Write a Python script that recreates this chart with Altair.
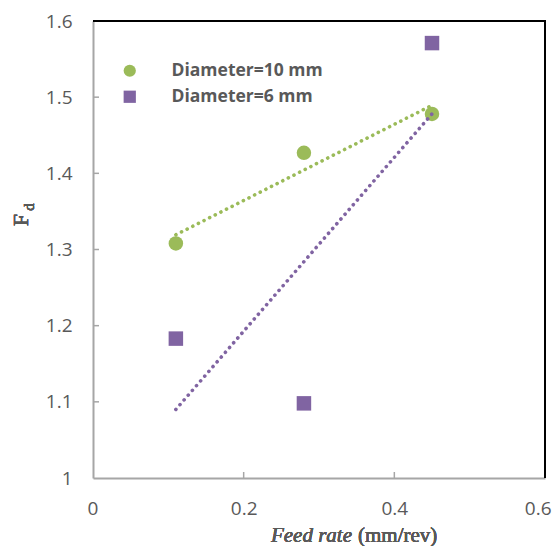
import altair as alt
import pandas as pd

feed = [0.11, 0.28, 0.45]
fd_10 = [1.308, 1.427, 1.478]
fd_6 = [1.183, 1.098, 1.571]
series_names = ["Diameter=10 mm", "Diameter=6 mm"]
colors = ["#9BBB59", "#8064A2"]
shapes = ["circle", "square"]
x_ticks = [0, 0.2, 0.4, 0.6]
y_ticks = [1, 1.1, 1.2, 1.3, 1.4, 1.5, 1.6]

rows = []
for x, y in zip(feed, fd_10):
    rows.append({"x": x, "y": y, "s": series_names[0]})
for x, y in zip(feed, fd_6):
    rows.append({"x": x, "y": y, "s": series_names[1]})
df = pd.DataFrame(rows)

W, H = 452, 457
xs = alt.Scale(domain=[0, 0.6], nice=False)
ys = alt.Scale(domain=[1, 1.6], nice=False)
lab_font = "Open Sans"

xaxis = alt.Axis(values=x_ticks, title=None, grid=False, domainColor="#A6A6A6", domainWidth=2,
                 ticks=False, labelFont=lab_font, labelFontSize=19, labelColor="#595959",
                 labelPadding=21, labelFlush=True, labelFlushOffset=6, format="~g")
yaxis = alt.Axis(values=y_ticks, title=None, grid=False, domainColor="#A6A6A6", domainWidth=2,
                 ticks=False, labelFont=lab_font, labelFontSize=19, labelColor="#595959",
                 labelPadding=21, format="~g")

base = alt.Chart(df)

points = base.mark_point(filled=True, opacity=1, size=210).encode(
    x=alt.X("x:Q", scale=xs, axis=xaxis),
    y=alt.Y("y:Q", scale=ys, axis=yaxis),
    color=alt.Color("s:N", scale=alt.Scale(domain=series_names, range=colors),
                    legend=alt.Legend(title=None, orient="none", legendX=28, legendY=41,
                                      labelFont=lab_font, labelFontSize=17.5, labelFontWeight="bold",
                                      labelColor="#595959", symbolSize=150, symbolOpacity=1,
                                      labelOffset=33, rowPadding=7, padding=0,
                                      symbolStrokeWidth=0)),
    shape=alt.Shape("s:N", scale=alt.Scale(domain=series_names, range=shapes)),
)

trend = base.transform_regression("x", "y", groupby=["s"]).mark_line(
    strokeDash=[0.1, 6.2], strokeCap="round", strokeWidth=3.6
).encode(
    x=alt.X("x:Q", scale=xs),
    y=alt.Y("y:Q", scale=ys),
    color=alt.Color("s:N", scale=alt.Scale(domain=series_names, range=colors), legend=None),
)

# inward tick marks
ytick_df = pd.DataFrame({"v": y_ticks[1:-1]})
yt = alt.Chart(ytick_df).mark_rule(color="#A6A6A6", strokeWidth=1.5).encode(
    y=alt.Y("v:Q", scale=ys), x=alt.value(0), x2=alt.value(6))
xtick_df = pd.DataFrame({"v": x_ticks[1:-1]})
xt = alt.Chart(xtick_df).mark_rule(color="#A6A6A6", strokeWidth=1.5).encode(
    x=alt.X("v:Q", scale=xs), y=alt.value(H), y2=alt.value(H - 6))

top_b = alt.Chart(df).mark_rule(color="black", strokeWidth=2).encode(
    x=alt.value(0), x2=alt.value(W + 1), y=alt.value(0))
right_b = alt.Chart(df).mark_rule(color="black", strokeWidth=2).encode(
    x=alt.value(W), y=alt.value(0), y2=alt.value(H))

serif = "Liberation Serif"
t1 = alt.Chart(df).mark_text(text="Feed rate", font=serif, fontSize=21, fontStyle="italic",
                             color="#595959", align="right", baseline="alphabetic").encode(
    x=alt.value(259), y=alt.value(521))
t2 = alt.Chart(df).mark_text(text="(mm/rev)", font=serif, fontSize=21,
                             color="#595959", align="left", baseline="alphabetic").encode(
    x=alt.value(265), y=alt.value(521))
f1 = alt.Chart(df).mark_text(text="F", font=serif, fontSize=22, angle=270,
                             color="#595959", align="center", baseline="middle").encode(
    x=alt.value(-72), y=alt.value(199))
f2 = alt.Chart(df).mark_text(text="d", font=serif, fontSize=15, angle=270,
                             color="#595959", align="center", baseline="middle").encode(
    x=alt.value(-64), y=alt.value(186))

chart = alt.layer(points, trend, yt, xt, top_b, right_b, t1, t2, f1, f2).properties(
    width=W, height=H,
    autosize=alt.AutoSizeParams(type="none"),
    padding={"left": 85, "top": 13, "right": 7, "bottom": 68},
).configure_view(stroke=None)

chart.save("out.html", embed_options={"renderer": "svg", "actions": False})
